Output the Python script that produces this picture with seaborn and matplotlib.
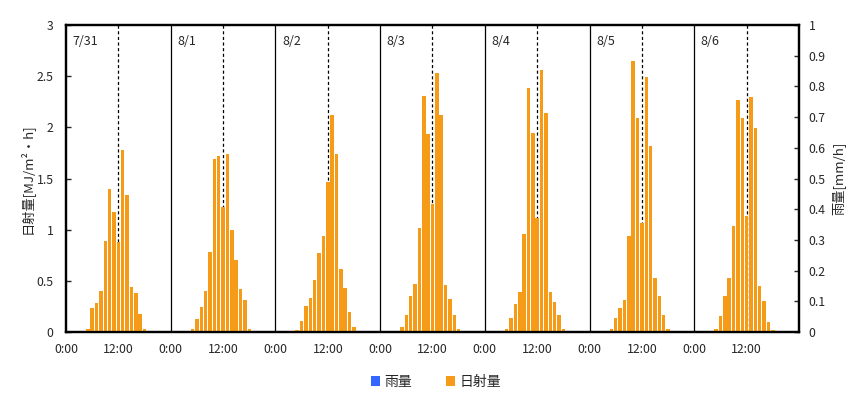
import matplotlib
matplotlib.use('Agg')
import matplotlib.pyplot as plt
import numpy as np
import pandas as pd
import seaborn as sns
from matplotlib.patches import Patch

# ---------------- data ----------------
dates = ['7/31', '8/1', '8/2', '8/3', '8/4', '8/5', '8/6']
hours = list(range(5, 19))  # hours with non-zero radiation (5:00 .. 18:00)

solar_0731 = [0.03, 0.235, 0.28, 0.40, 0.89, 1.40, 1.17, 0.88, 1.78, 1.34, 0.44, 0.38, 0.18, 0.03]
solar_0801 = [0.03, 0.13, 0.245, 0.40, 0.78, 1.69, 1.72, 1.22, 1.74, 1.00, 0.70, 0.42, 0.31, 0.03]
solar_0802 = [0.015, 0.11, 0.25, 0.33, 0.505, 0.77, 0.94, 1.47, 2.12, 1.74, 0.62, 0.43, 0.20, 0.05]
solar_0803 = [0.045, 0.17, 0.35, 0.47, 1.02, 2.31, 1.93, 1.25, 2.53, 2.12, 0.46, 0.32, 0.17, 0.03]
solar_0804 = [0.03, 0.14, 0.27, 0.39, 0.955, 2.38, 1.94, 1.115, 2.56, 2.14, 0.39, 0.29, 0.17, 0.03]
solar_0805 = [0.03, 0.14, 0.23, 0.31, 0.94, 2.65, 2.09, 1.07, 2.49, 1.82, 0.525, 0.35, 0.17, 0.03]
solar_0806 = [0.03, 0.16, 0.35, 0.525, 1.04, 2.27, 2.09, 1.13, 2.30, 1.99, 0.45, 0.30, 0.10, 0.015]
solar_days = [solar_0731, solar_0801, solar_0802, solar_0803, solar_0804, solar_0805, solar_0806]

rain_mm = [0.0] * (24 * len(dates))  # no rain during the period

x_ticklabels = ['0:00', '12:00']
left_ticks = [0, 0.5, 1, 1.5, 2, 2.5, 3]
right_ticks = [0, 0.1, 0.2, 0.3, 0.4, 0.5, 0.6, 0.7, 0.8, 0.9, 1]

# ---------------- table ----------------
rows = []
for d, vals in enumerate(solar_days):
    for h in range(24):
        v = vals[hours.index(h)] if h in hours else 0.0
        rows.append({'t': d * 24 + h, 'solar': v, 'rain': rain_mm[d * 24 + h]})
df = pd.DataFrame(rows)

# ---------------- style ----------------
sns.set_style('white')
plt.rcParams['font.family'] = ['Noto Sans CJK JP', 'DejaVu Sans']
plt.rcParams['axes.unicode_minus'] = False

ORANGE = '#F59B17'
BLUE = '#3366FF'

W, H = 865, 397
fig = plt.figure(figsize=(W / 100, H / 100), dpi=100)
L, R, T, B = 66, 799, 25, 332
ax = fig.add_axes([L / W, 1 - B / H, (R - L) / W, (B - T) / H])

sns.barplot(data=df, x='t', y='solar', native_scale=True, width=0.8,
            color=ORANGE, saturation=1, errorbar=None, ax=ax)
for p in ax.patches:
    p.set_edgecolor('none')
    p.set_zorder(3)

ndays = len(dates)
ax.set_xlim(0, 24 * ndays)
ax.set_ylim(0, 3)

for d in range(1, ndays):
    ax.axvline(24 * d, color='black', lw=0.9, zorder=1)
for d in range(ndays):
    ax.axvline(24 * d + 12, color='black', lw=0.9, ls=(0, (2.5, 2.0)), zorder=1)
    ax.text(24 * d + 1.5, 2.84, dates[d], fontsize=9, va='center', ha='left')

ax.set_xticks([24 * d + 12 * k for d in range(ndays) for k in range(2)])
ax.set_xticklabels(x_ticklabels * ndays)
ax.tick_params(axis='x', length=0, pad=8, labelsize=8.8)
ax.set_yticks(left_ticks)
ax.set_yticklabels(['0', '0.5', '1', '1.5', '2', '2.5', '3'])
ax.tick_params(axis='y', direction='in', length=3.5, width=1, pad=9, labelsize=8.8, left=True)
ax.set_xlabel('')
ax.set_ylabel('')

ax2 = ax.twinx()
sns.barplot(data=df, x='t', y='rain', native_scale=True, width=0.8,
            color=BLUE, saturation=1, errorbar=None, ax=ax2)
ax2.set_xlim(0, 24 * ndays)
ax2.set_ylim(0, 1)
ax2.set_yticks(right_ticks)
ax2.set_yticklabels(['0', '0.1', '0.2', '0.3', '0.4', '0.5', '0.6', '0.7', '0.8', '0.9', '1'])
ax2.tick_params(axis='y', direction='in', length=3.5, width=1, pad=7, labelsize=8.8, right=True)
ax2.set_ylabel('')
ax2.set_xlabel('')

for a in (ax, ax2):
    for s in a.spines.values():
        s.set_color('black')
        s.set_linewidth(1.6)

fig.text(26 / W, 1 - 178.5 / H, '日射量[MJ/m²・h]', rotation=90, ha='center', va='center', fontsize=9.5)
fig.text(838 / W, 1 - 178.5 / H, '雨量[mm/h]', rotation=90, ha='center', va='center', fontsize=9.5)

handles = [Patch(facecolor=BLUE, edgecolor='none'), Patch(facecolor=ORANGE, edgecolor='none')]
fig.legend(handles, ['雨量', '日射量'], loc='center', bbox_to_anchor=(436 / W, 1 - 382 / H),
           ncol=2, frameon=False, handlelength=0.65, handleheight=0.65,
           handletextpad=0.35, columnspacing=2.4, fontsize=10)

fig.savefig('out.png', dpi=100)
